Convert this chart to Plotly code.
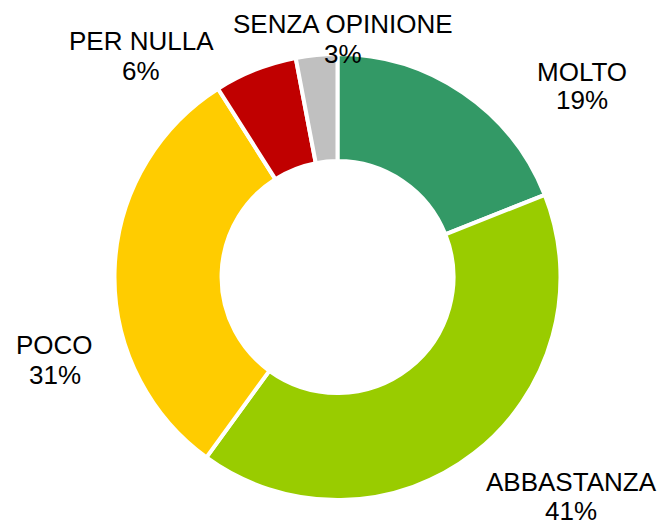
import plotly.graph_objects as go

labels = ["MOLTO", "ABBASTANZA", "POCO", "PER NULLA", "SENZA OPINIONE"]
values = [19, 41, 31, 6, 3]
colors = ["#339966", "#99CC00", "#FFCC00", "#C00000", "#C0C0C0"]

W, H = 671, 525
# label centres (pixels): x, y of first line, y of second line
label_pos = [
    (582, 72, 100),
    (571, 482, 511),
    (55, 345, 375),
    (141, 41, 71),
    (343, 24, 54),
]

fig = go.Figure()
fig.add_trace(go.Pie(
    labels=labels,
    values=values,
    hole=0.52,
    sort=False,
    direction="clockwise",
    rotation=0,
    textinfo="none",
    hoverinfo="label+percent",
    marker=dict(colors=colors, line=dict(color="white", width=4)),
    domain=dict(x=[(337.5 - 223) / W, (337.5 + 223) / W],
                y=[1 - 500 / H, 1 - 54 / H]),
    showlegend=False,
))

font = dict(family="Liberation Sans, Arial, sans-serif", size=26, color="black")
total = sum(values)
for lab, val, (px, py1, py2) in zip(labels, values, label_pos):
    pct = f"{round(val / total * 100)}%"
    for txt, py in ((lab, py1), (pct, py2)):
        fig.add_annotation(
            x=px / W, y=1 - py / H, xref="paper", yref="paper",
            text=txt, showarrow=False, xanchor="center", yanchor="middle",
            font=font,
        )

fig.update_layout(
    width=W, height=H,
    margin=dict(l=0, r=0, t=0, b=0),
    paper_bgcolor="white",
    plot_bgcolor="white",
)

fig.write_html("out.html", config={"displayModeBar": False},
               post_script="document.body.style.margin='0px';")
